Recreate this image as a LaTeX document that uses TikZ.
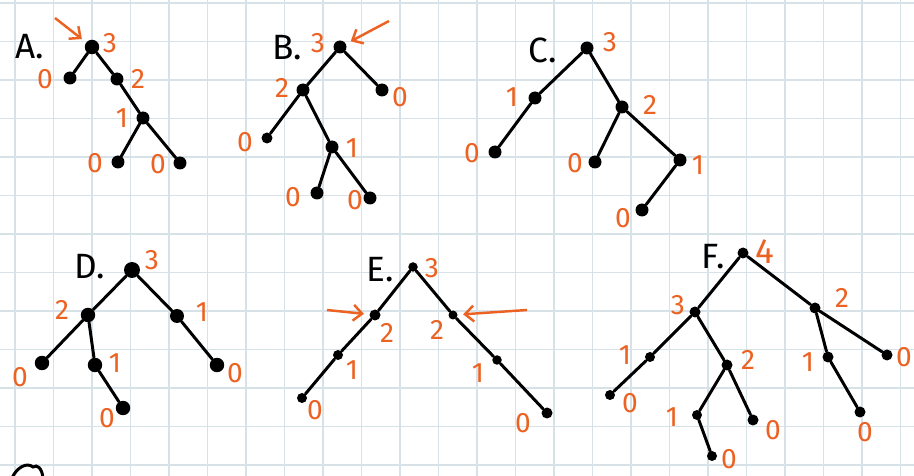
\documentclass[tikz,border=0pt]{standalone}
\usepackage{fontspec}
\setmainfont{Fira Sans}
\usepackage{tikz}
\usetikzlibrary{arrows.meta}
\usepackage{xcolor}
\definecolor{rank-color}{RGB}{236,98,34}
\definecolor{grid-color}{RGB}{214,226,232}

\begin{document}
\begin{tikzpicture}[x=0.02cm, y=-0.02cm,
    vertex/.style={circle, fill=black, inner sep=0pt, minimum size=#1},
    vertex/.default=0.26cm,
    branch/.style={line width=1.7pt, black, line cap=round},
    rank/.style={font=\fontsize{16}{18}\selectfont, text=rank-color, inner sep=0pt},
    treename/.style={font=\fontsize{20}{22}\selectfont, inner sep=0pt},
    pointer/.style={-{Straight Barb[length=5pt, width=9pt]}, line width=1.4pt, rank-color, shorten >=3pt}]

    % Paper and grid
    \useasboundingbox (0,0) rectangle (914,476);
    \fill[white] (0,0) rectangle (914,476);
    \foreach \k in {0,...,23}
        \draw[grid-color, line width=0.8pt] ({15+38.5*\k},0) -- ({15+38.5*\k},476);
    \foreach \k in {0,...,12}
        \draw[grid-color, line width=0.8pt] (0,{3+38.5*\k}) -- (914,{3+38.5*\k});

    % Tree A
    \node[treename] (nA) at (30,47) {A.};
    \node[vertex=0.29cm] (a0) at (92,47) {};
    \node[vertex] (a1) at (70,78) {};
    \node[vertex] (a2) at (117,79) {};
    \node[vertex] (a3) at (143,118) {};
    \node[vertex] (a4) at (118,162) {};
    \node[vertex] (a5) at (180,163) {};
    \draw[branch] (a0) -- (a1);
    \draw[branch] (a0) -- (a2);
    \draw[branch] (a2) -- (a3);
    \draw[branch] (a3) -- (a4);
    \draw[branch] (a3) -- (a5);
    \node[rank] (a0r) at (110,43) {3};
    \node[rank] (a1r) at (45,79) {0};
    \node[rank] (a2r) at (138,79) {2};
    \node[rank] (a3r) at (122,118) {1};
    \node[rank] (a4r) at (95,163) {0};
    \node[rank] (a5r) at (158,164) {0};
    \coordinate (aTail) at (55,18);
    \draw[pointer] (aTail) -- (a0);

    % Tree B
    \node[treename] (nB) at (287,48) {B.};
    \node[vertex] (b0) at (340,47) {};
    \node[vertex] (b1) at (303,90) {};
    \node[vertex] (b2) at (382,90) {};
    \node[vertex=0.22cm] (b3) at (267,138) {};
    \node[vertex] (b4) at (332,147) {};
    \node[vertex] (b5) at (317,193) {};
    \node[vertex] (b6) at (370,198) {};
    \draw[branch] (b0) -- (b1);
    \draw[branch] (b0) -- (b2);
    \draw[branch] (b1) -- (b3);
    \draw[branch] (b1) -- (b4);
    \draw[branch] (b4) -- (b5);
    \draw[branch] (b4) -- (b6);
    \node[rank] (b0r) at (318,43) {3};
    \node[rank] (b1r) at (282,88) {2};
    \node[rank] (b2r) at (400,97) {0};
    \node[rank] (b3r) at (245,142) {0};
    \node[rank] (b4r) at (352,148) {1};
    \node[rank] (b5r) at (293,197) {0};
    \node[rank] (b6r) at (355,200) {0};
    \coordinate (bTail) at (389,21);
    \draw[pointer] (bTail) -- (b0);

    % Tree C
    \node[treename] (nC) at (543,50) {C.};
    \node[vertex] (c0) at (587,48) {};
    \node[vertex] (c1) at (535,98) {};
    \node[vertex] (c2) at (495,152) {};
    \node[vertex] (c3) at (622,107) {};
    \node[vertex] (c4) at (595,162) {};
    \node[vertex] (c5) at (680,160) {};
    \node[vertex] (c6) at (642,210) {};
    \draw[branch] (c0) -- (c1);
    \draw[branch] (c1) -- (c2);
    \draw[branch] (c0) -- (c3);
    \draw[branch] (c3) -- (c4);
    \draw[branch] (c3) -- (c5);
    \draw[branch] (c5) -- (c6);
    \node[rank] (c0r) at (610,42) {3};
    \node[rank] (c1r) at (512,97) {1};
    \node[rank] (c2r) at (472,153) {0};
    \node[rank] (c3r) at (650,105) {2};
    \node[rank] (c4r) at (575,163) {0};
    \node[rank] (c5r) at (698,165) {1};
    \node[rank] (c6r) at (623,218) {0};

    % Tree D
    \node[treename] (nD) at (90,267) {D.};
    \node[vertex=0.32cm] (d0) at (132,270) {};
    \node[vertex=0.29cm] (d1) at (88,315) {};
    \node[vertex=0.29cm] (d2) at (42,363) {};
    \node[vertex=0.29cm] (d3) at (95,365) {};
    \node[vertex=0.29cm] (d4) at (123,408) {};
    \node[vertex=0.28cm] (d5) at (177,316) {};
    \node[vertex=0.29cm] (d6) at (217,365) {};
    \draw[branch] (d0) -- (d1);
    \draw[branch] (d1) -- (d2);
    \draw[branch] (d1) -- (d3);
    \draw[branch] (d3) -- (d4);
    \draw[branch] (d0) -- (d5);
    \draw[branch] (d5) -- (d6);
    \node[rank] (d0r) at (152,260) {3};
    \node[rank] (d1r) at (62,310) {2};
    \node[rank] (d2r) at (20,377) {0};
    \node[rank] (d3r) at (115,363) {1};
    \node[rank] (d4r) at (107,418) {0};
    \node[rank] (d5r) at (202,312) {1};
    \node[rank] (d6r) at (235,373) {0};

    % Tree E
    \node[treename] (nE) at (380,270) {E.};
    \node[vertex=0.19cm] (e0) at (413,267) {};
    \node[vertex=0.22cm] (e1) at (375,315) {};
    \node[vertex=0.2cm] (e2) at (338,355) {};
    \node[vertex=0.2cm] (e3) at (302,398) {};
    \node[vertex=0.18cm] (e4) at (453,315) {};
    \node[vertex=0.19cm] (e5) at (497,360) {};
    \node[vertex=0.22cm] (e6) at (547,413) {};
    \draw[branch] (e0) -- (e1);
    \draw[branch] (e1) -- (e2);
    \draw[branch] (e2) -- (e3);
    \draw[branch] (e0) -- (e4);
    \draw[branch] (e4) -- (e5);
    \draw[branch] (e5) -- (e6);
    \node[rank] (e0r) at (432,268) {3};
    \node[rank] (e1r) at (387,333) {2};
    \node[rank] (e2r) at (352,370) {1};
    \node[rank] (e3r) at (315,410) {0};
    \node[rank] (e4r) at (437,330) {2};
    \node[rank] (e5r) at (478,373) {1};
    \node[rank] (e6r) at (523,423) {0};
    \coordinate (eTailL) at (327,310);
    \coordinate (eTailR) at (527,310);
    \draw[pointer] (eTailL) -- (e1);
    \draw[pointer] (eTailR) -- (e4);

    % Tree F
    \node[treename] (nF) at (713,257) {F.};
    \node[vertex=0.22cm] (f0) at (743,253) {};
    \node[vertex=0.22cm] (f1) at (695,312) {};
    \node[vertex=0.2cm] (f2) at (650,357) {};
    \node[vertex=0.2cm] (f3) at (610,395) {};
    \node[vertex=0.22cm] (f4) at (727,365) {};
    \node[vertex=0.2cm] (f5) at (697,415) {};
    \node[vertex=0.2cm] (f6) at (712,456) {};
    \node[vertex=0.22cm] (f7) at (753,420) {};
    \node[vertex=0.22cm] (f8) at (815,308) {};
    \node[vertex=0.22cm] (f9) at (828,357) {};
    \node[vertex=0.22cm] (f10) at (860,412) {};
    \node[vertex=0.22cm] (f11) at (887,355) {};
    \draw[branch] (f0) -- (f1);
    \draw[branch] (f1) -- (f2);
    \draw[branch] (f2) -- (f3);
    \draw[branch] (f1) -- (f4);
    \draw[branch] (f4) -- (f5);
    \draw[branch] (f5) -- (f6);
    \draw[branch] (f4) -- (f7);
    \draw[branch] (f0) -- (f8);
    \draw[branch] (f8) -- (f9);
    \draw[branch] (f9) -- (f10);
    \draw[branch] (f8) -- (f11);
    \node[rank, font=\fontsize{20}{22}\selectfont] (f0r) at (765,252) {4};
    \node[rank] (f1r) at (678,305) {3};
    \node[rank] (f2r) at (625,355) {1};
    \node[rank] (f3r) at (630,403) {0};
    \node[rank] (f4r) at (748,360) {2};
    \node[rank] (f5r) at (672,417) {1};
    \node[rank] (f6r) at (729,459) {0};
    \node[rank] (f7r) at (773,430) {0};
    \node[rank] (f8r) at (842,298) {2};
    \node[rank] (f9r) at (808,362) {1};
    \node[rank] (f10r) at (865,432) {0};
    \node[rank] (f11r) at (904,357) {0};

    % cut-off sketch at the bottom edge
    \draw[branch] (12,478) .. controls (17,467) and (27,462) .. (33,467)
        .. controls (37,464) and (42,468) .. (43,478);
\end{tikzpicture}
\end{document}
